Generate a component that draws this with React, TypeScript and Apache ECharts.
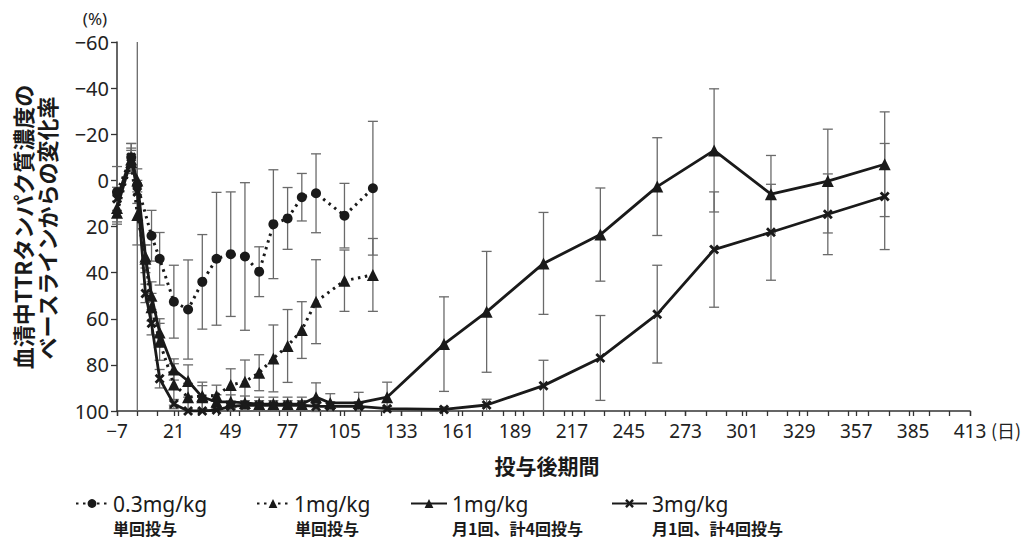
import React, { useEffect, useRef } from "react";
import * as echarts from "echarts";

// ---- data ----
const days03 = [-7, 0, 3, 10, 14, 21, 28, 35, 42, 49, 56, 63, 70, 77, 84, 91, 105, 119];
const val03 = [5, -10, 2, 24, 34, 52.6, 56, 44, 34, 32, 33, 39.6, 19, 16.5, 7.3, 5.6, 15.3, 3.4];
const sd03 = [11, 6, 100, 11, 11.4, 15.8, 21.5, 20.5, 28.8, 27, 32, 10.8, 23.6, 13.4, 10.3, 17.1, 14, 29];

const days1s = [-7, 0, 3, 7, 10, 14, 21, 28, 35, 42, 49, 56, 63, 70, 77, 84, 91, 105, 119];
const val1s = [14, -8, 15, 34, 55, 70, 88.5, 94, 93.5, 93.4, 88.7, 87.3, 83.4, 77.2, 71.8, 64.9, 52.6, 43.5, 41];
const sd1s = [5, 5, 13, 6, 6, 8, 9, 6, 6, 4.6, 7, 9.4, 7.8, 14.5, 15.8, 12.3, 18.2, 13.3, 15.8];

const days1m = [-7, 0, 3, 7, 10, 14, 21, 28, 35, 42, 49, 56, 63, 70, 77, 84, 91, 98, 112, 126, 154, 175, 203, 231, 259, 287, 315, 343, 371];
const val1m = [12, -9, 0, 33, 50, 66, 82, 87, 94, 96, 96, 96.5, 97, 97, 97, 97, 94, 96.5, 96.5, 94, 71, 57, 36, 23.5, 2.7, -13, 6, 0.3, -7];
const sd1m = [6, 5, 5, 5, 6, 6, 4.6, 7, 5, 3, 3, 3, 3, 3, 3, 3, 6.2, 4, 4.6, 6.5, 20.5, 26.2, 22.1, 20.2, 21.2, 26.7, 16.8, 22.5, 22.7];

const days3m = [-7, 0, 3, 7, 10, 14, 21, 28, 35, 42, 49, 56, 63, 70, 77, 84, 91, 98, 112, 126, 154, 175, 203, 231, 259, 287, 315, 343, 371];
const val3m = [8, -10, 5, 49, 62, 86, 97, 100, 100, 99.6, 98, 97.5, 97.5, 97.5, 97.5, 97.5, 98, 98, 98, 99, 99.3, 97.4, 89, 77, 58, 30, 22.5, 14.7, 7];
const sd3m = [5, 6, 5, 4, 5, 4, 2, 0.5, 0.5, 1, 2, 2, 2, 2, 2, 2, 2, 2, 2, 1, 1, 2.5, 11, 18.4, 21.2, 25, 20.8, 17.5, 23];

const seriesNames = ["0.3mg/kg単回投与", "1mg/kg単回投与", "1mg/kg月1回、計4回投与", "3mg/kg月1回、計4回投与"];
const legendLine1 = ["0.3mg/kg", "1mg/kg", "1mg/kg", "3mg/kg"];
const legendLine2 = ["単回投与", "単回投与", "月1回、計4回投与", "月1回、計4回投与"];

const xMin = -7;
const xMax = 413;
const yMin = -60;
const yMax = 100;

const INK = "#1a1a1a";
const ERR = "#6a6a6a";
const NUM_FONT = "'Noto Sans', sans-serif";
const JP_FONT = "'Noto Sans CJK JP', 'Noto Sans', sans-serif";
const X_SYMBOL = "path://M2,0 L5,3 L8,0 L10,2 L7,5 L10,8 L8,10 L5,7 L2,10 L0,8 L3,5 L0,2 Z";

function makeErr(name: string, days: number[], vals: number[], sds: number[]) {
  const data = days.map((d, i) => [d, vals[i] - sds[i], vals[i] + sds[i]]);
  return {
    type: "custom",
    name: name + "_err",
    z: 1,
    silent: true,
    data,
    encode: { x: 0, y: [1, 2] },
    renderItem: (params: any, api: any) => {
      const cs = params.coordSys;
      const x = api.value(0);
      const lo = api.value(1);
      const hi = api.value(2);
      const p1 = api.coord([x, lo]);
      const p2 = api.coord([x, hi]);
      const top = cs.y;
      const bot = cs.y + cs.height;
      const clamp = (v: number) => Math.max(top, Math.min(bot, v));
      const children: any[] = [
        {
          type: "line",
          shape: { x1: p1[0], y1: clamp(p1[1]), x2: p1[0], y2: clamp(p2[1]) },
          style: { stroke: ERR, lineWidth: 1.3 },
        },
      ];
      const cap = 5;
      [p1[1], p2[1]].forEach((y: number) => {
        if (y >= top - 0.5 && y <= bot + 0.5) {
          children.push({
            type: "line",
            shape: { x1: p1[0] - cap, y1: y, x2: p1[0] + cap, y2: y },
            style: { stroke: ERR, lineWidth: 1.3 },
          });
        }
      });
      return { type: "group", children };
    },
  };
}

function makeLine(name: string, days: number[], vals: number[], symbol: string, size: number, dotted: boolean) {
  return {
    type: "line",
    name,
    z: 3,
    data: days.map((d, i) => [d, vals[i]]),
    symbol,
    symbolSize: size,
    showSymbol: true,
    lineStyle: { color: INK, width: dotted ? 3 : 2.8, type: dotted ? [2.5, 4.5] : "solid" },
    itemStyle: { color: INK },
  };
}

const fmtNum = (v: number) => (v < 0 ? "\u2212" + Math.abs(v) : String(v));

export default function App() {
  const ref = useRef<HTMLDivElement>(null);
  useEffect(() => {
    if (!ref.current) return;
    const chart = echarts.init(ref.current, undefined, { renderer: "svg" });
    const legendLefts = [75, 256, 410, 611];
    const legendWidths = [32, 32, 36, 35];
    const legends = seriesNames.map((n, i) => ({
      data: [n],
      left: legendLefts[i],
      top: 493,
      padding: 0,
      itemWidth: legendWidths[i],
      itemHeight: 11,
      itemGap: 0,
      selectedMode: false,
      formatter: () => legendLine1[i],
      textStyle: { fontSize: 21, lineHeight: 20, fontFamily: NUM_FONT, color: INK },
    }));
    const l2X = [113, 295, 452, 652];
    const option: any = {
      animation: false,
      backgroundColor: "#ffffff",
      grid: { left: 117, right: 53, top: 42, bottom: 128, containLabel: false },
      legend: legends,
      xAxis: [
        {
          type: "value",
          min: xMin,
          max: xMax,
          interval: 28,
          position: "bottom",
          axisLine: { onZero: false, lineStyle: { color: "#333", width: 1.5 } },
          axisTick: { show: true, length: 5, lineStyle: { color: "#333", width: 1.3 } },
          axisLabel: {
            fontSize: 19,
            lineHeight: 19,
            fontFamily: NUM_FONT,
            color: "#222",
            margin: 10,
            formatter: fmtNum,
          },
          splitLine: { show: false },
        },
        {
          type: "value",
          min: xMin,
          max: xMax,
          interval: 10,
          position: "bottom",
          axisLine: { show: false, onZero: false },
          axisTick: { show: true, length: 5, lineStyle: { color: "#333", width: 1.3 } },
          axisLabel: { show: false },
          splitLine: { show: false },
        },
      ],
      yAxis: {
        type: "value",
        min: yMin,
        max: yMax,
        interval: 20,
        inverse: true,
        axisLine: { show: true, onZero: false, lineStyle: { color: "#333", width: 1.5 } },
        axisTick: { show: true, length: 6, lineStyle: { color: "#333", width: 1.3 } },
        axisLabel: {
          fontSize: 20,
          lineHeight: 18,
          fontFamily: NUM_FONT,
          color: "#222",
          margin: 8,
          formatter: fmtNum,
        },
        splitLine: { show: false },
      },
      series: [
        makeErr(seriesNames[0], days03, val03, sd03),
        makeErr(seriesNames[1], days1s, val1s, sd1s),
        makeErr(seriesNames[2], days1m, val1m, sd1m),
        makeErr(seriesNames[3], days3m, val3m, sd3m),
        makeLine(seriesNames[0], days03, val03, "circle", 10, true),
        makeLine(seriesNames[1], days1s, val1s, "triangle", 12, true),
        makeLine(seriesNames[2], days1m, val1m, "triangle", 12, false),
        makeLine(seriesNames[3], days3m, val3m, X_SYMBOL, 10, false),
      ],
      graphic: [
        {
          type: "text",
          x: 95,
          y: 18,
          style: { text: "(%)", fontSize: 17, lineHeight: 17, fontFamily: NUM_FONT, fill: "#222", textAlign: "center", textVerticalAlign: "middle" },
        },
        {
          type: "text",
          x: 1006,
          y: 430,
          style: { text: "(日)", fontSize: 18, fontFamily: JP_FONT, fill: "#222", textAlign: "center", textVerticalAlign: "middle" },
        },
        {
          type: "text",
          x: 547,
          y: 465,
          style: { text: "投与後期間", fontSize: 21, fontWeight: "bold", fontFamily: JP_FONT, fill: INK, textAlign: "center", textVerticalAlign: "middle" },
        },
        {
          type: "text",
          x: 22,
          y: 227,
          rotation: Math.PI / 2,
          style: { text: "血清中TTRタンパク質濃度の", fontSize: 22, fontWeight: "bold", fontFamily: JP_FONT, fill: INK, textAlign: "center", textVerticalAlign: "middle" },
        },
        {
          type: "text",
          x: 46,
          y: 228,
          rotation: Math.PI / 2,
          style: { text: "ベースラインからの変化率", fontSize: 22, fontWeight: "bold", fontFamily: JP_FONT, fill: INK, textAlign: "center", textVerticalAlign: "middle" },
        },
        ...legendLine2.map((t, i) => ({
          type: "text",
          x: l2X[i],
          y: 528,
          style: { text: t, fontSize: 16, lineHeight: 16, fontWeight: "bold", fontFamily: JP_FONT, fill: INK, textAlign: "left", textVerticalAlign: "middle" },
        })),
      ],
    };
    chart.setOption(option);
    return () => chart.dispose();
  }, []);
  return (
    <div
      ref={ref}
      style={{ position: "absolute", left: 0, top: 0, width: 1023, height: 539, background: "#fff" }}
    />
  );
}
